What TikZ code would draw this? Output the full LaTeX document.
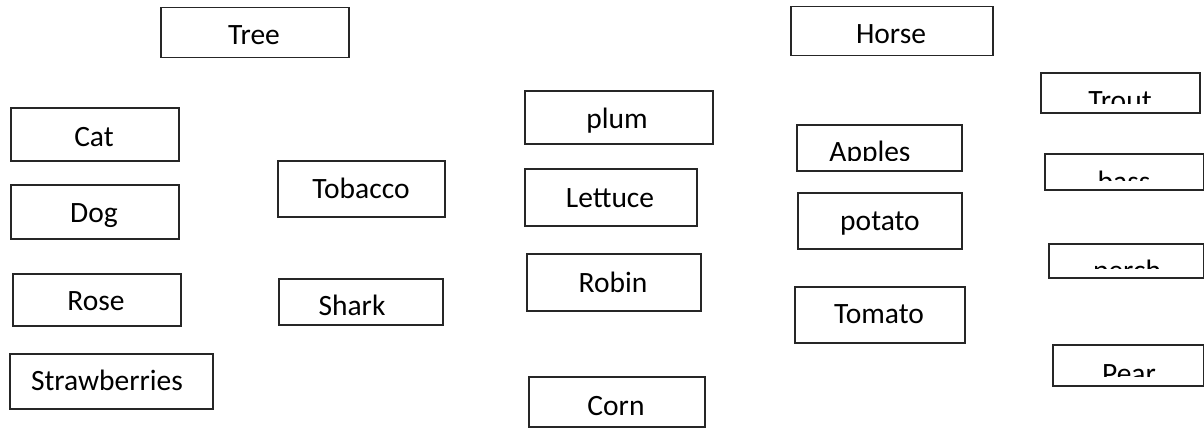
\documentclass[tikz,border=0pt]{standalone}
\usepackage{fontspec}
\setmainfont{Carlito}
\tikzset{
  card/.style={draw=black!85, line width=1.5pt, inner sep=0pt, anchor=north west},
  word/.style={font=\fontsize{29.5}{35}\selectfont, anchor=base, inner sep=0pt},
}
\begin{document}
\begin{tikzpicture}[x=1pt,y=-1pt]
\useasboundingbox (0,0) rectangle (1204,428);

% boxes: top left corner and size
\node[card, minimum width=188pt, minimum height=50pt] (Tree)    at (160,7)   {};
\node[card, minimum width=202pt, minimum height=49pt] (Horse)   at (790,6)   {};
\node[card, minimum width=168pt, minimum height=53pt] (Cat)     at (10,107)  {};
\node[card, minimum width=168pt, minimum height=54pt] (Dog)     at (10,184)  {};
\node[card, minimum width=168pt, minimum height=52pt] (Rose)    at (12,273)  {};
\node[card, minimum width=203pt, minimum height=55pt] (Straw)   at (9,353)   {};
\node[card, minimum width=167pt, minimum height=56pt] (Tobacco) at (277,160) {};
\node[card, minimum width=164pt, minimum height=46pt] (Shark)   at (278,278) {};
\node[card, minimum width=188pt, minimum height=53pt] (Plum)    at (524,90)  {};
\node[card, minimum width=172pt, minimum height=57pt] (Lettuce) at (524,168) {};
\node[card, minimum width=174pt, minimum height=57pt] (Robin)   at (526,253) {};
\node[card, minimum width=176pt, minimum height=50pt] (Corn)    at (528,376) {};
\node[card, minimum width=165pt, minimum height=46pt] (Apples)  at (796,124) {};
\node[card, minimum width=164pt, minimum height=56pt] (Potato)  at (797,192) {};
\node[card, minimum width=170pt, minimum height=56pt] (Tomato)  at (794,286) {};
\node[card, minimum width=159pt, minimum height=40pt] (Trout)   at (1040,72) {};
\node[card, minimum width=159pt, minimum height=36pt] (Bass)    at (1044,153){};
\node[card, minimum width=155pt, minimum height=34pt] (Perch)   at (1048,243){};
\node[card, minimum width=151pt, minimum height=41pt] (Pear)    at (1052,344){};

% words
\node[word] (tTree)    at (254,45)  {Tree};
\node[word] (tHorse)   at (891,44)  {Horse};
\node[word] (tCat)     at (94,146)  {Cat};
\node[word] (tDog)     at (94,222)  {Dog};
\node[word] (tRose)    at (96,310)  {Rose};
\node[word] (tStraw)   at (107,390) {Strawberries};
\node[word] (tTobacco) at (361,198) {Tobacco};
\node[word] (tShark)   at (352,315) {Shark};
\node[word] (tPlum)    at (617,128) {plum};
\node[word] (tLettuce) at (610,207) {Lettuce};
\node[word] (tRobin)   at (613,292) {Robin};
\node[word] (tCorn)    at (616,415) {Corn};
\node[word] (tPotato)  at (880,230) {potato};
\node[word] (tTomato)  at (879,323) {Tomato};

% words cut off by their box
\begin{scope}
\clip (Apples.north west) rectangle ([yshift=11pt]Apples.south east);
\node[word] (tApples) at (870,161) {Apples};
\end{scope}
\begin{scope}
\clip (Trout.north west) rectangle ([yshift=10pt]Trout.south east);
\node[word] (tTrout) at (1120,110) {Trout};
\end{scope}
\begin{scope}
\clip (Bass.north west) rectangle ([yshift=10pt]Bass.south east);
\node[word] (tBass) at (1124,191) {bass};
\end{scope}
\begin{scope}
\clip (Perch.north west) rectangle ([yshift=10pt]Perch.south east);
\node[word] (tPerch) at (1127,280) {perch};
\end{scope}
\begin{scope}
\clip (Pear.north west) rectangle ([yshift=10pt]Pear.south east);
\node[word] (tPear) at (1129,383) {Pear};
\end{scope}

\end{tikzpicture}
\end{document}
